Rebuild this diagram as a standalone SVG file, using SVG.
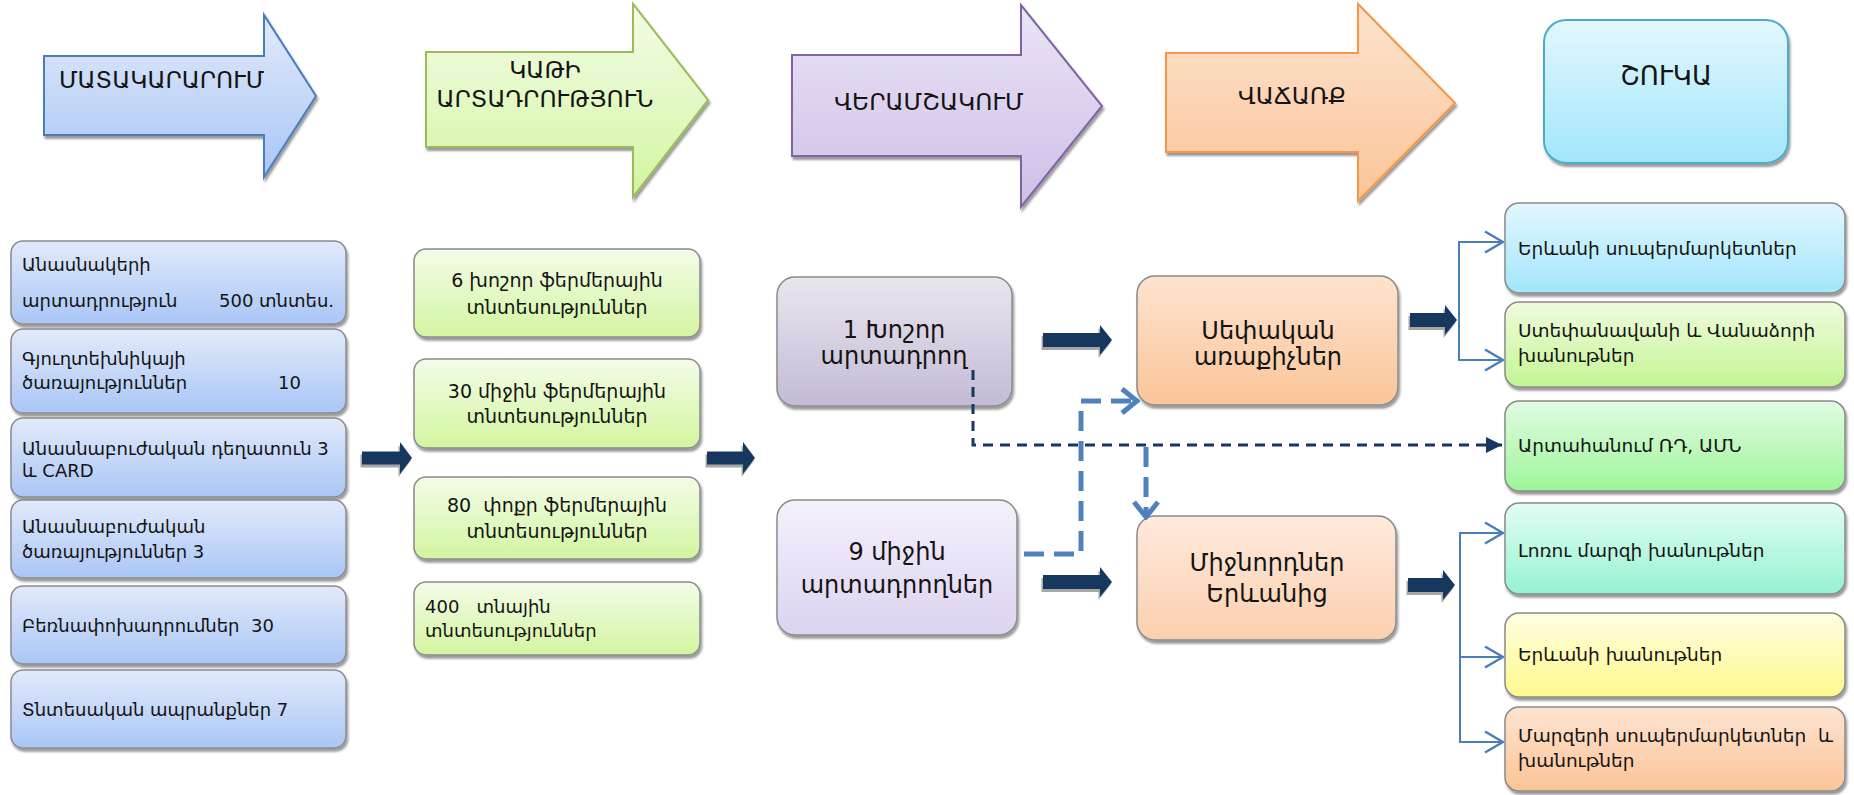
<svg xmlns="http://www.w3.org/2000/svg" width="1854" height="795" viewBox="0 0 1854 795">
<style>
text{font-family:"DejaVu Sans","Noto Sans",sans-serif;fill:#141414}
.t{font-size:23.5px}
.s{font-size:18px}
.g{font-size:19px}
.r{font-size:18.5px}
.m{font-size:24px}
.box{stroke:#8a8a8a;stroke-width:1.5;filter:url(#sh)}
.dk{fill:#17375e;filter:url(#sh2)}
</style>
<defs>
<filter id="sh" x="-10%" y="-10%" width="125%" height="130%"><feDropShadow dx="1.5" dy="3" stdDeviation="1.2" flood-color="#000" flood-opacity="0.4"/></filter>
<filter id="sh2" x="-20%" y="-30%" width="140%" height="170%"><feDropShadow dx="-1.5" dy="3" stdDeviation="0.6" flood-color="#000" flood-opacity="0.35"/></filter>
<linearGradient id="gBlue" x1="0" y1="0" x2="0" y2="1"><stop offset="0" stop-color="#e2eafa"/><stop offset="1" stop-color="#a9c6f6"/></linearGradient>
<linearGradient id="gGreen" x1="0" y1="0" x2="0" y2="1"><stop offset="0" stop-color="#f3fce8"/><stop offset="1" stop-color="#d3f5a0"/></linearGradient>
<linearGradient id="gPurple" x1="0" y1="0" x2="0" y2="1"><stop offset="0" stop-color="#ebe4f6"/><stop offset="1" stop-color="#cdbfe8"/></linearGradient>
<linearGradient id="gPurpleD" x1="0" y1="0" x2="0" y2="1"><stop offset="0" stop-color="#e9e6ee"/><stop offset="1" stop-color="#c4bad6"/></linearGradient>
<linearGradient id="gPurpleL" x1="0" y1="0" x2="0" y2="1"><stop offset="0" stop-color="#f4f1fb"/><stop offset="1" stop-color="#dcd3f0"/></linearGradient>
<linearGradient id="gOrange" x1="0" y1="0" x2="0" y2="1"><stop offset="0" stop-color="#fde3cf"/><stop offset="1" stop-color="#fbc598"/></linearGradient>
<linearGradient id="gOrangeL" x1="0" y1="0" x2="0" y2="1"><stop offset="0" stop-color="#feeadd"/><stop offset="1" stop-color="#fbcfad"/></linearGradient>
<linearGradient id="gCyan" x1="0" y1="0" x2="0" y2="1"><stop offset="0" stop-color="#e2f7fd"/><stop offset="1" stop-color="#a2e6fb"/></linearGradient>
<linearGradient id="gLime" x1="0" y1="0" x2="0" y2="1"><stop offset="0" stop-color="#f0fbdd"/><stop offset="1" stop-color="#c3f595"/></linearGradient>
<linearGradient id="gMint" x1="0" y1="0" x2="0" y2="1"><stop offset="0" stop-color="#e2fbe2"/><stop offset="1" stop-color="#9ef59a"/></linearGradient>
<linearGradient id="gAqua" x1="0" y1="0" x2="0" y2="1"><stop offset="0" stop-color="#e2fdf3"/><stop offset="1" stop-color="#97f2d2"/></linearGradient>
<linearGradient id="gYellow" x1="0" y1="0" x2="0" y2="1"><stop offset="0" stop-color="#fffde2"/><stop offset="1" stop-color="#fdf98c"/></linearGradient>
<linearGradient id="gPeach" x1="0" y1="0" x2="0" y2="1"><stop offset="0" stop-color="#fde4d2"/><stop offset="1" stop-color="#fbc496"/></linearGradient>
<marker id="chev" markerUnits="userSpaceOnUse" viewBox="0 0 20 24" refX="19" refY="12" markerWidth="20" markerHeight="24" orient="auto"><path d="M1,1.5 L19,12 L1,22.5" fill="none" stroke="#4a7ebb" stroke-width="2.5"/></marker>
<marker id="chevB" markerUnits="userSpaceOnUse" viewBox="0 0 20 28" refX="17" refY="14" markerWidth="20" markerHeight="28" orient="auto"><path d="M2,2 L17,14 L2,26" fill="none" stroke="#4f81bd" stroke-width="5"/></marker>
<marker id="tri" markerUnits="userSpaceOnUse" viewBox="0 0 16 16" refX="16" refY="8" markerWidth="16" markerHeight="16" orient="auto"><path d="M0,0 L16,8 L0,16 Z" fill="#17375e"/></marker>
</defs>
<rect width="1854" height="795" fill="#fff"/>

<!-- header arrows -->
<g id="arrow-supply">
<path d="M44,56 H264 V15 L316,96 L264,177 V135 H44 Z" fill="url(#gBlue)" stroke="#4a7ebb" stroke-width="2" filter="url(#sh)"/>
<text class="t" x="59" y="88">ՄԱՏԱԿԱՐԱՐՈՒՄ</text>
</g>
<g id="arrow-production">
<path d="M426,52 H633 V4 L708,100 L633,197 V147 H426 Z" fill="url(#gGreen)" stroke="#9bbb59" stroke-width="2" filter="url(#sh)"/>
<text class="t" x="545" y="78" text-anchor="middle">ԿԱԹԻ</text>
<text class="t" x="545" y="107" text-anchor="middle">ԱՐՏԱԴՐՈՒԹՅՈՒՆ</text>
</g>
<g id="arrow-processing">
<path d="M792,55 H1021 V5 L1102,106 L1021,207 V156 H792 Z" fill="url(#gPurple)" stroke="#8064a2" stroke-width="2" filter="url(#sh)"/>
<text class="t" x="929" y="110" text-anchor="middle">ՎԵՐԱՄՇԱԿՈՒՄ</text>
</g>
<g id="arrow-sales">
<path d="M1166,53 H1358 V4 L1455,103 L1358,201 V152 H1166 Z" fill="url(#gOrange)" stroke="#f79646" stroke-width="2" filter="url(#sh)"/>
<text class="t" x="1292" y="104" text-anchor="middle">ՎԱՃԱՌՔ</text>
</g>
<g id="node-market">
<rect x="1544" y="20" width="244" height="143" rx="22" fill="url(#gCyan)" stroke="#4bacc6" stroke-width="2" filter="url(#sh)"/>
<text x="1666" y="85" text-anchor="middle" font-size="26">ՇՈՒԿԱ</text>
</g>

<!-- left column -->
<g id="node-l1"><rect class="box" x="11" y="241" width="335" height="83" rx="12" fill="url(#gBlue)"/>
<text class="s" x="22" y="271">Անասնակերի</text><text class="s" x="22" y="307">արտադրություն</text><text class="s" x="219" y="307">500 տնտես.</text></g>
<g id="node-l2"><rect class="box" x="11" y="329" width="335" height="84" rx="12" fill="url(#gBlue)"/>
<text class="s" x="22" y="365">Գյուղտեխնիկայի</text><text class="s" x="22" y="389">ծառայություններ</text><text class="s" x="278" y="389">10</text></g>
<g id="node-l3"><rect class="box" x="11" y="418" width="335" height="79" rx="12" fill="url(#gBlue)"/>
<text class="s" x="22" y="455">Անասնաբուժական դեղատուն 3</text><text class="s" x="22" y="477">և CARD</text></g>
<g id="node-l4"><rect class="box" x="11" y="500" width="335" height="78" rx="12" fill="url(#gBlue)"/>
<text class="s" x="22" y="533">Անասնաբուժական</text><text class="s" x="22" y="558">ծառայություններ 3</text></g>
<g id="node-l5"><rect class="box" x="11" y="586" width="335" height="78" rx="12" fill="url(#gBlue)"/>
<text class="s" x="22" y="632" xml:space="preserve">Բեռնափոխադրումներ  30</text></g>
<g id="node-l6"><rect class="box" x="11" y="670" width="335" height="78" rx="12" fill="url(#gBlue)"/>
<text class="s" x="22" y="716">Տնտեսական ապրանքներ 7</text></g>

<!-- production column -->
<g id="node-g1"><rect class="box" x="414" y="249" width="286" height="88" rx="12" fill="url(#gGreen)"/>
<text class="g" x="557" y="287" text-anchor="middle">6 խոշոր ֆերմերային</text><text class="g" x="557" y="314" text-anchor="middle">տնտեսություններ</text></g>
<g id="node-g2"><rect class="box" x="414" y="359" width="286" height="89" rx="12" fill="url(#gGreen)"/>
<text class="g" x="557" y="398" text-anchor="middle">30 միջին ֆերմերային</text><text class="g" x="557" y="423" text-anchor="middle">տնտեսություններ</text></g>
<g id="node-g3"><rect class="box" x="414" y="477" width="286" height="82" rx="12" fill="url(#gGreen)"/>
<text class="g" x="557" y="512" text-anchor="middle" xml:space="preserve">80  փոքր ֆերմերային</text><text class="g" x="557" y="538" text-anchor="middle">տնտեսություններ</text></g>
<g id="node-g4"><rect class="box" x="414" y="582" width="286" height="73" rx="12" fill="url(#gGreen)"/>
<text class="s" x="425" y="613" xml:space="preserve">400   տնային</text><text class="s" x="425" y="637">տնտեսություններ</text></g>

<!-- processing column -->
<g id="node-p1"><rect class="box" x="777" y="277" width="235" height="129" rx="18" fill="url(#gPurpleD)"/>
<text class="m" x="894" y="338" text-anchor="middle">1 Խոշոր</text><text class="m" x="894" y="364" text-anchor="middle">արտադրող</text></g>
<g id="node-p2"><rect class="box" x="777" y="500" width="240" height="135" rx="18" fill="url(#gPurpleL)"/>
<text class="m" x="897" y="560" text-anchor="middle">9 միջին</text><text class="m" x="897" y="593" text-anchor="middle">արտադրողներ</text></g>

<!-- sales column -->
<g id="node-o1"><rect class="box" x="1137" y="276" width="261" height="129" rx="18" fill="url(#gOrange)"/>
<text class="m" x="1268" y="339" text-anchor="middle">Սեփական</text><text class="m" x="1268" y="365" text-anchor="middle">առաքիչներ</text></g>
<g id="node-o2"><rect class="box" x="1137" y="516" width="259" height="124" rx="18" fill="url(#gOrangeL)"/>
<text class="m" x="1267" y="571" text-anchor="middle">Միջնորդներ</text><text class="m" x="1267" y="602" text-anchor="middle">Երևանից</text></g>

<!-- market column -->
<g id="node-r1"><rect class="box" x="1505" y="203" width="340" height="90" rx="14" fill="url(#gCyan)"/>
<text class="r" x="1518" y="255">Երևանի սուպերմարկետներ</text></g>
<g id="node-r2"><rect class="box" x="1505" y="302" width="340" height="85" rx="14" fill="url(#gLime)"/>
<text class="r" x="1518" y="337">Ստեփանավանի և Վանաձորի</text><text class="r" x="1518" y="362">խանութներ</text></g>
<g id="node-r3"><rect class="box" x="1505" y="401" width="340" height="90" rx="14" fill="url(#gMint)"/>
<text class="r" x="1518" y="452">Արտահանում ՌԴ, ԱՄՆ</text></g>
<g id="node-r4"><rect class="box" x="1505" y="503" width="340" height="91" rx="14" fill="url(#gAqua)"/>
<text class="r" x="1518" y="557">Լոռու մարզի խանութներ</text></g>
<g id="node-r5"><rect class="box" x="1505" y="613" width="340" height="84" rx="14" fill="url(#gYellow)"/>
<text class="r" x="1518" y="661">Երևանի խանութներ</text></g>
<g id="node-r6"><rect class="box" x="1505" y="707" width="340" height="84" rx="14" fill="url(#gPeach)"/>
<text class="r" x="1518" y="742" xml:space="preserve">Մարզերի սուպերմարկետներ  և</text><text class="r" x="1518" y="767">խանութներ</text></g>

<!-- connectors -->
<g id="connectors">
<path class="dk" d="M362,451.5 H400 V442 L412,458 L400,474 V464.5 H362 Z"/>
<path class="dk" d="M707,451.5 H743 V442 L755,458 L743,474 V464.5 H707 Z"/>
<path class="dk" d="M1043,333 H1100 V325 L1112,340 L1100,355 V347 H1043 Z"/>
<path class="dk" d="M1043,575 H1100 V567 L1112,582 L1100,597 V589 H1043 Z"/>
<path class="dk" d="M1410,313 H1445 V305 L1457,320 L1445,335 V327 H1410 Z"/>
<path class="dk" d="M1408,578 H1443 V570 L1455,585 L1443,600 V592 H1408 Z"/>
<path d="M973,370 V445 H1502" fill="none" stroke="#17375e" stroke-width="3" stroke-dasharray="10 7" marker-end="url(#tri)"/>
<path d="M1024,554 H1081 V401 H1137" fill="none" stroke="#4f81bd" stroke-width="5" stroke-dasharray="20 10" marker-end="url(#chevB)"/>
<path d="M1146,447 V517" fill="none" stroke="#4f81bd" stroke-width="5" stroke-dasharray="20 10" marker-end="url(#chevB)"/>
<path d="M1459,320 V242 H1503" fill="none" stroke="#4a7ebb" stroke-width="2" marker-end="url(#chev)"/>
<path d="M1459,320 V360 H1503" fill="none" stroke="#4a7ebb" stroke-width="2" marker-end="url(#chev)"/>
<path d="M1460,585 V533 H1503" fill="none" stroke="#4a7ebb" stroke-width="2" marker-end="url(#chev)"/>
<path d="M1460,585 V742 H1503" fill="none" stroke="#4a7ebb" stroke-width="2" marker-end="url(#chev)"/>
<path d="M1460,657 H1503" fill="none" stroke="#4a7ebb" stroke-width="2" marker-end="url(#chev)"/>
</g>
</svg>
